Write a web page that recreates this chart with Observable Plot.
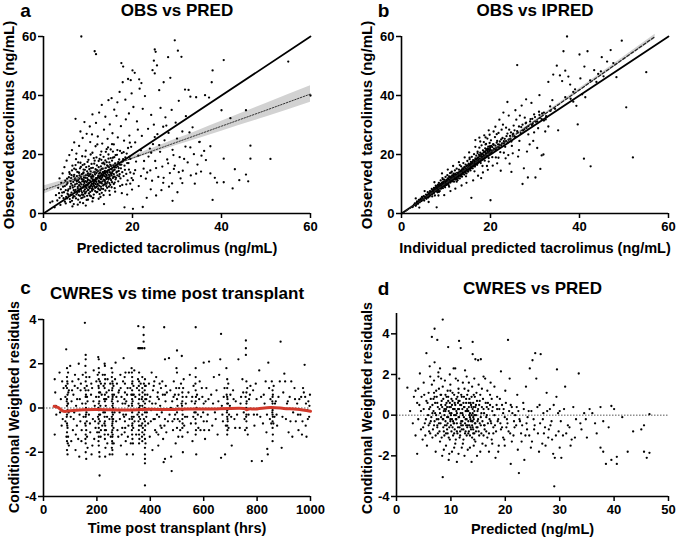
<!DOCTYPE html>
<html><head><meta charset="utf-8">
<script src="https://cdn.jsdelivr.net/npm/d3@7"></script>
<script src="https://cdn.jsdelivr.net/npm/@observablehq/plot@0.6"></script>
<style>
body{margin:0;background:#fff}
#wrap{position:relative;width:677px;height:540px;background:#fff;overflow:hidden}
.p{position:absolute}
</style></head><body><div id="wrap"></div>
<script>
// ---------- Panel a: OBS vs PRED (pred, obs) ----------
const aPoints = [
[4.2,7.1],[4.8,9.3],[5.1,5.6],[5.3,11.8],[5.6,8.2],[5.9,13.4],[6.1,6.4],[6.2,10.1],[6.4,4.3],[6.6,8.8],[6.8,12.6],[6.9,15.2],[7.0,7.3],[7.1,9.9],[7.3,5.1],[7.4,11.2],[7.6,14.1],[7.7,8.4],[7.8,17.3],[7.9,6.2],[8.0,10.6],[8.1,12.9],[8.2,3.8],[8.3,9.1],[8.4,15.8],[8.5,7.6],[8.6,11.7],[8.7,19.4],[8.8,5.4],[8.9,13.6],[9.0,8.9],[9.1,10.8],[9.2,16.7],[9.3,6.8],[9.4,12.1],[9.5,21.3],[9.6,9.6],[9.7,4.6],[9.8,14.3],[9.9,11.1],[10.0,7.9],[10.1,18.2],[10.2,10.3],[10.3,13.1],[10.4,6.1],[10.5,24.2],[10.6,9.2],[10.7,15.4],[10.8,11.9],[10.9,8.3],[11.0,20.6],[11.1,12.7],[11.2,5.3],[11.3,10.2],[11.4,16.9],[11.5,13.8],[11.6,8.7],[11.7,22.8],[11.8,11.4],[11.9,7.2],[12.0,14.7],[12.1,9.8],[12.2,26.1],[12.3,12.3],[12.4,17.8],[12.5,10.7],[12.6,6.6],[12.7,13.9],[12.8,19.9],[12.9,11.6],[13.0,8.4],[13.1,15.1],[13.2,23.7],[13.3,12.8],[13.4,9.5],[13.5,17.2],[13.6,28.4],[13.7,11.3],[13.8,14.4],[13.9,7.8],[14.0,20.9],[14.1,13.2],[14.2,10.1],[14.3,16.3],[14.4,25.3],[14.5,12.2],[14.6,18.6],[14.7,9.1],[14.8,14.9],[14.9,30.2],[15.0,11.8],[15.1,21.7],[15.2,16.1],[15.3,8.9],[15.4,13.7],[15.5,27.2],[15.6,18.9],[15.7,12.4],[15.8,23.4],[15.9,15.6],[16.0,10.5],[16.2,19.8],[16.4,33.1],[16.5,14.2],[16.7,25.8],[16.8,17.4],[17.0,12.6],[17.2,21.2],[17.4,29.6],[17.5,16.6],[17.7,9.7],[17.9,18.4],[18.1,24.7],[18.3,14.8],[18.5,31.9],[18.7,20.3],[18.9,11.2],[19.1,17.1],[19.3,26.4],[19.5,13.9],[19.7,22.6],[19.9,8.1],
[3.1,4.4],[3.5,6.9],[3.8,2.9],[4.0,10.4],[4.5,5.2],[5.0,3.4],[5.5,7.7],[6.0,9.1],[6.3,13.0],[6.7,5.9],[7.2,16.4],[7.5,10.9],[8.1,8.1],[8.6,6.4],[9.0,11.5],[9.4,9.4],[9.9,13.0],[10.3,8.8],[10.7,12.5],[11.2,9.7],[11.6,11.0],[12.0,12.0],[12.4,8.2],[12.9,10.6],[13.3,14.0],[13.8,9.9],[14.2,12.9],[14.7,15.7],[15.2,13.4],[15.7,14.6],[16.3,12.1],[16.9,15.4],[11.3,18.8],[10.2,16.0],[9.0,14.9],[8.0,13.8],[7.0,11.4],[6.5,2.4],[11.0,4.1],[12.8,5.6],[14.9,6.3],[16.1,7.4],[17.6,6.9],[13.6,3.2],[9.5,2.7],
[7.2,32.1],[8.3,27.8],[9.2,31.0],[10.4,29.5],[11.0,33.6],[11.8,30.7],[12.5,34.2],[13.1,36.8],[13.9,32.8],[14.6,38.4],[15.3,39.1],[15.9,35.2],[16.6,37.7],[17.1,41.2],[17.8,44.5],[18.4,38.6],[19.2,33.9],[19.8,40.7],[20.2,36.1],[21.0,31.2],[21.6,42.3],[22.3,35.5],[22.8,39.8],[23.5,28.7],[24.2,33.4],[24.8,30.1],[25.6,26.9],[26.3,35.8],[26.9,29.4],[27.4,32.6],[28.1,27.3],[28.8,35.1],[29.7,30.8],[30.4,38.2],[31.2,27.8],[32.0,33.0],[32.6,41.9],[33.5,29.2],[34.3,39.4],[35.1,24.3],
[8.5,60],[11.5,55],[11.8,54],[17.5,51],[17.9,49.8],[20,48.5],[20.5,47.7],[21.5,45.5],[22,44.2],[19,45.6],[19.6,45.2],[24.5,48.6],[25,47.5],[24.8,51.8],[25,55.6],[25.2,54.8],[25.5,50.2],[28,53],[29.5,58.7],[30.2,55.2],[31,53.1],[28.5,46],[38,48.5],[37.8,44.5],[40.5,52],[55,51.5],[60,40],[40,35],[42,32.3],[45.5,35],[46.5,23],[46.5,18.6],[51,18.5],[43,15],[44,11.3],[45.5,13.2],[46,10.9],[42.5,8.5],[38,4.6],[37.5,13.6],[38.5,12.1],[39,10.5],[40.5,10.6],[40.5,18.6],[36.1,21.2],[37.5,22.8],[35,24.2],[36.3,40.1],[37.2,39.3],[33,39.6],[31.8,42],[27,44.5],[26,41.8],[18.2,2.1],[20.1,1.6],[22.3,2.2],[29,4.3],[28.2,9.1],[30.1,7.2],[31.2,10.3],[25.3,6.1],[24.1,8.2],
[18.8,6.4],[19.5,10.1],[20.3,13.5],[20.8,17.6],[21.4,9.3],[21.9,21.4],[22.5,15.2],[23.0,11.8],[23.6,19.3],[24.0,14.6],[24.6,23.5],[25.1,17.8],[25.8,12.4],[26.2,20.9],[26.7,15.9],[27.2,24.8],[27.8,18.3],[28.4,13.7],[29.0,21.6],[29.5,16.2],[30.0,25.4],[30.6,19.1],[31.3,14.5],[31.9,22.7],[32.4,17.3],[33.1,12.9],[33.8,20.1],[34.6,16.6],[35.4,14.2],[36.5,18.1],[23.2,5.3],[26.5,7.9],[28.9,10.2],[27.6,29.8],[22.1,26.3],[20.6,24.1],[19.3,19.2],[21.2,28.4],[29.3,15.1],[30.8,11.9],[24.4,11.1],[26.9,10.4],[25.0,25.9],[23.9,22.0],[32.8,27.5],[34.0,10.1],
[1.5,3.7],[2.0,4.1],[2.5,2.1],[2.8,6.2],[3.3,8.7],[3.6,11.9],[4.3,13.6],[4.7,15.7],[5.2,17.9],[5.8,19.8],[6.4,21.5],[6.9,24.1],[7.4,20.3],[8.0,22.9],[8.8,25.6],[9.7,27.0],[10.9,26.8],[12.1,23.4],[13.0,21.0],[14.5,22.4]
];
const aPointsCore = [
[5.2,9.8],[5.4,6.7],[5.7,12.3],[5.9,4.9],[6.0,8.5],[6.1,11.0],[6.3,7.1],[6.4,14.6],[6.5,9.5],[6.6,5.3],[6.7,10.7],[6.8,7.9],[6.9,13.1],[7.0,5.8],[7.0,9.2],[7.1,11.9],[7.2,8.0],[7.3,14.9],[7.4,6.5],[7.5,10.1],[7.5,12.7],[7.6,7.0],[7.7,9.0],[7.8,11.3],[7.8,4.7],[7.9,13.9],[8.0,7.4],[8.0,9.6],[8.1,11.8],[8.2,6.0],[8.2,15.3],[8.3,10.4],[8.4,8.3],[8.4,12.4],[8.5,5.2],[8.5,9.9],[8.6,13.3],[8.7,7.1],[8.7,10.9],[8.8,8.8],[8.8,16.4],[8.9,6.3],[8.9,11.4],[9.0,9.7],[9.0,13.9],[9.1,7.6],[9.1,12.2],[9.2,5.7],[9.2,10.3],[9.3,8.2],[9.3,14.8],[9.4,11.0],[9.4,6.9],[9.5,9.0],[9.5,12.9],[9.6,7.4],[9.6,15.7],[9.7,10.6],[9.7,8.6],[9.8,12.0],[9.8,6.0],[9.9,9.5],[9.9,17.5],[10.0,11.5],[10.0,13.6],[10.1,8.0],[10.1,10.0],[10.2,12.7],[10.2,6.8],[10.3,9.1],[10.3,15.0],[10.4,11.2],[10.4,8.6],[10.5,13.3],[10.5,7.3],[10.6,10.8],[10.6,14.3],[10.7,9.6],[10.7,5.8],[10.8,12.3],[10.8,16.8],[10.9,10.1],[10.9,7.7],[11.0,13.0],[11.0,9.0],[11.1,11.6],[11.1,15.5],[11.2,8.2],[11.2,12.5],[11.3,10.6],[11.3,6.4],[11.4,14.0],[11.4,9.3],[11.5,11.2],[11.5,17.9],[11.6,13.2],[11.6,7.6],[11.7,10.0],[11.7,15.0],[11.8,12.0],[11.8,8.9],[11.9,13.7],[11.9,10.7],[12.0,9.2],[12.0,16.3],[12.1,11.8],[12.1,7.3],[12.2,14.2],[12.2,10.0],[12.3,12.8],[12.3,8.5],[12.4,15.7],[12.4,11.1],[12.5,13.5],[12.5,9.4],[12.6,12.0],[12.6,18.5],[12.7,10.4],[12.7,7.9],[12.8,14.7],[12.8,12.5],[12.9,9.1],[12.9,16.0],[13.0,11.9],[13.0,13.4],[13.1,10.2],[13.1,7.0],[13.2,12.3],[13.2,17.0],[13.3,10.9],[13.3,15.2],[13.4,13.0],[13.4,8.3],[13.5,11.5],[13.5,19.2],[13.6,14.1],[13.6,9.8],[13.7,12.7],[13.7,16.7],[13.8,11.0],[13.8,13.5],[13.9,10.4],[13.9,18.0],[14.0,12.4],[14.0,15.4],[14.1,9.3],[14.1,11.7],[14.2,14.3],[14.2,17.4],[14.3,12.0],[14.3,8.7],[14.4,13.8],[14.4,10.7],[14.5,16.0],[14.5,14.6],[14.6,11.5],[14.6,20.0],[14.7,13.1],[14.7,12.1],[14.8,17.3],[14.8,10.3],[14.9,14.0],[14.9,12.7],[15.0,16.5],[15.0,9.7],[15.1,13.6],[15.1,18.8],[15.2,11.3],[15.3,15.0],[15.3,12.9],[15.4,10.6],[15.4,17.9],[15.5,14.2],[15.6,12.0],[15.6,21.0],[15.7,16.3],[15.8,13.3],[15.8,10.0],[15.9,19.1],[16.0,14.8],[16.0,12.5],[16.1,17.0],[16.2,11.6],[16.3,15.6],[16.4,13.9],[16.5,19.9],[16.6,12.9],[16.7,16.0],[16.8,10.9],[16.9,14.4],[17.0,18.3],[17.1,13.3],[17.2,16.5],[17.3,11.9],[17.4,15.3],[17.6,20.5],[17.7,14.0],[17.8,17.6],[18.0,12.7],[18.2,16.2],[18.4,19.0],[18.6,13.4],[18.8,17.1],[19.0,22.2],[19.2,14.9],[19.5,18.5],[19.8,12.0],
[3.6,5.3],[3.9,8.2],[4.1,6.0],[4.4,9.1],[4.6,7.2],[4.8,4.0],[4.9,11.1],[5.0,7.9],[5.3,5.1],[5.4,10.3],[5.6,6.3],[5.8,14.0],[6.0,3.9],[6.2,12.0],[6.5,16.2],[6.8,3.2],[7.3,18.4],[7.7,3.0],[8.3,17.2],[8.9,3.5],[9.4,19.3],[10.0,4.7],[10.6,20.0],[11.1,5.2],[11.9,19.0],[12.4,5.0],[13.0,18.2],[13.5,6.2],[14.2,21.8],[14.8,7.7],[15.4,23.5],[16.0,8.6],[16.6,21.5],[17.2,9.3],[18.0,20.8],[18.6,9.9],[19.4,24.0],[20.1,11.3],[20.6,14.7],[21.3,19.6],[21.9,12.7],[22.6,17.8],[23.3,13.9],[24.2,20.6],[25.3,15.4],[26.0,23.2],[27.0,12.1],[28.0,17.0],[29.2,19.8],[30.4,14.0],[31.6,18.5],[33.0,22.4],[34.3,13.5],[35.5,19.6]
];
const aFitX  = [0, 5, 10, 15, 20, 30, 40, 50, 60];
const aFitY  = [7.9, 10.6, 13.3, 16.0, 18.8, 24.2, 29.6, 35.0, 40.5];
const aFitLo = [6.5, 9.7, 12.8, 15.6, 18.2, 23.1, 27.9, 32.7, 37.7];
const aFitHi = [9.3, 11.5, 13.8, 16.4, 19.4, 25.3, 31.3, 37.3, 43.3];

// ---------- Panel b: OBS vs IPRED (ipred, obs) ----------
const bPoints = [
[2.5,2.2],[3.0,3.4],[3.2,2.6],[3.5,4.1],[3.7,3.3],[3.9,4.6],[4.1,3.8],[4.3,5.0],[4.5,4.2],[4.6,5.6],[4.8,4.7],[5.0,5.9],[5.1,4.4],[5.3,5.3],[5.5,6.4],[5.6,5.0],[5.8,6.0],[5.9,7.2],[6.0,5.4],[6.2,6.7],[6.3,5.8],[6.4,7.6],[6.5,6.2],[6.7,7.1],[6.8,8.3],[6.9,6.5],[7.0,7.6],[7.2,6.9],[7.3,8.7],[7.4,7.4],[7.5,6.1],[7.6,8.0],[7.7,9.4],[7.8,7.5],[8.0,8.6],[8.1,7.2],[8.2,9.8],[8.3,8.1],[8.4,10.4],[8.5,8.9],[8.6,7.6],[8.7,9.5],[8.8,11.2],[8.9,8.4],[9.0,10.1],[9.1,9.0],[9.2,12.0],[9.3,8.6],[9.4,10.7],[9.5,9.4],[9.6,11.5],[9.7,10.0],[9.8,8.9],[9.9,12.4],[10.0,10.6],[10.1,9.7],[10.2,11.3],[10.3,13.0],[10.4,10.2],[10.5,11.9],[10.6,9.6],[10.7,12.6],[10.8,11.0],[10.9,13.7],[11.0,10.5],[11.1,12.1],[11.2,11.4],[11.3,14.2],[11.4,10.9],[11.5,12.8],[11.6,11.8],[11.7,13.5],[11.8,10.8],[11.9,12.4],[12.0,14.6],[12.1,11.5],[12.2,13.1],[12.3,12.0],[12.4,15.2],[12.5,12.9],[12.6,11.3],[12.7,13.8],[12.8,12.6],[12.9,14.9],[13.0,13.3],[13.1,11.9],[13.2,14.1],[13.3,13.0],[13.4,16.0],[13.5,14.5],[13.6,12.5],[13.7,15.3],[13.8,13.9],[13.9,17.1],[14.0,14.7],[14.1,13.2],[14.2,15.8],[14.3,14.3],[14.4,16.6],[14.5,15.1],[14.6,13.6],[14.7,16.2],[14.8,17.8],[14.9,15.4],[15.0,14.2],[15.1,16.9],[15.2,15.8],[15.3,18.4],[15.4,16.3],[15.5,14.6],[15.6,17.5],[15.7,16.4],[15.8,19.2],[15.9,17.0],[16.0,15.3],[16.1,18.1],[16.2,16.8],[16.3,20.1],[16.4,17.6],[16.5,15.9],[16.6,18.7],[16.7,17.2],[16.8,19.6],[16.9,18.3],[17.0,16.5],[17.1,21.0],[17.2,18.9],[17.3,17.6],[17.4,19.9],[17.5,22.3],[17.6,18.4],[17.7,20.6],[17.8,17.1],[17.9,19.4],[18.0,23.1],[18.1,20.2],[18.2,18.6],[18.3,21.4],[18.4,19.8],[18.5,24.2],[18.6,21.0],[18.7,17.9],[18.8,22.1],[18.9,20.5],[19.0,23.6],[19.1,19.3],[19.2,21.8],[19.3,25.4],[19.4,20.9],[19.5,22.7],[19.6,18.8],[19.7,21.5],[19.8,23.9],[19.9,22.2],[20.0,20.4],[20.1,24.8],[20.2,22.9],[20.3,21.3],[20.4,19.1],[20.6,23.5],[20.8,22.0],[21.0,25.9],[21.2,21.6],[21.4,24.0],[21.6,22.4],[21.8,27.3],[22.0,23.3],[22.2,20.8],[22.4,25.1],[22.6,23.8],[22.8,30.1],[23.0,24.5],[23.3,22.6],[23.6,26.2],[23.9,24.1],[24.2,28.4],[24.5,25.3],[24.8,22.9],[25.1,27.1],[25.4,26.0],[25.8,31.8],[26.1,27.4],[26.5,24.6],[26.9,29.3],[27.3,28.1],[27.7,32.5],[28.1,29.0],[28.5,26.8],[28.9,31.2],[29.3,30.0],[29.8,33.6],[30.2,31.1],[30.7,28.9],[31.1,32.4],[31.6,33.9],[32.0,31.5],[32.5,33.0],[33.0,29.5],[33.5,34.8],
[3.2,5.1],[4.0,2.0],[5.2,7.6],[6.1,3.9],[7.4,10.6],[7.9,2.1],[8.3,6.1],[9.1,13.6],[9.6,6.2],[10.4,14.9],[11.0,7.6],[11.6,16.1],[12.1,8.4],[12.9,17.4],[13.5,9.5],[14.2,19.0],[14.6,10.4],[15.2,20.7],[15.7,5.3],[16.1,11.2],[16.6,22.6],[17.2,12.8],[17.7,24.4],[18.3,13.9],[18.9,25.8],[19.4,14.8],[19.8,26.7],[20.0,4.5],[20.5,16.2],[21.1,29.4],[21.5,17.0],[22.0,31.8],[22.3,14.5],[22.9,34.2],[23.4,18.7],[23.8,37.8],[24.3,16.9],[24.1,33.2],[25.0,20.4],[25.6,35.0],[26.0,50.3],[26.4,21.5],[27.0,36.6],[27.2,10.0],[27.5,15.3],[28.0,38.7],[28.4,12.2],[28.8,23.4],[29.2,37.5],[29.8,27.5],[30.1,12.2],[30.5,22.2],[31.0,40.1],[31.2,15.1],[31.5,19.7],[31.9,20.0],[32.3,27.8],[33.0,44.6],[33.4,36.3],[34.1,47.1],[34.9,50.1],[35.2,28.2],[35.6,46.8],[36.1,44.9],[36.4,55.0],[36.8,39.4],[37.2,60.0],[37.5,46.4],[38.0,38.9],[38.6,41.2],[39.3,36.5],[39.6,30.2],[40.0,53.9],[40.2,45.8],[40.6,40.4],[41.1,49.8],[41.3,39.4],[41.8,55.0],[42.4,45.1],[42.5,16.0],[41.0,18.6],[43.3,48.6],[44.2,47.3],[45.0,53.0],[45.4,46.5],[46.2,51.5],[47.0,55.4],[47.6,51.0],[48.3,46.2],[49.5,58.6],[50.5,36.0],[52.0,19.0],[55.0,47.9],[44.8,48.2],[43.8,44.6],[39.0,42.1],[37.9,43.7],[36.8,48.4],[38.6,37.9],[34.5,35.5],[33.9,38.4],[32.4,31.9],[30.9,34.5],[29.4,32.1],[27.9,30.6],[26.6,33.2],[25.2,29.8],[24.6,27.5],[23.5,29.1],[22.5,28.4],[21.4,26.9],[20.7,27.8],[19.6,28.2],[18.6,26.5],[17.5,25.7],[16.6,24.9],[17.9,12.0],[19.2,16.1],[21.8,18.9],[24.0,19.8],[26.2,19.3],[28.2,21.0],[29.6,24.6],[24.7,14.1]
];
const bPointsCore = [
[4.4,4.5],[4.7,5.2],[4.9,4.9],[5.2,5.6],[5.4,5.5],[5.7,6.2],[5.8,5.5],[6.0,6.5],[6.1,6.0],[6.3,6.9],[6.4,6.4],[6.6,7.4],[6.6,6.6],[6.8,7.0],[7.0,7.9],[7.1,7.3],[7.2,8.1],[7.3,7.0],[7.4,8.5],[7.5,7.8],[7.6,8.7],[7.7,7.7],[7.8,8.9],[7.9,8.2],[8.0,9.3],[8.1,8.5],[8.2,8.0],[8.3,9.4],[8.4,8.8],[8.5,9.9],[8.6,9.2],[8.7,8.5],[8.8,10.0],[8.9,9.4],[9.0,9.0],[9.1,10.5],[9.2,9.6],[9.3,10.1],[9.4,9.2],[9.5,10.8],[9.6,10.2],[9.7,9.4],[9.8,11.0],[9.9,10.3],[10.0,9.7],[10.1,11.4],[10.2,10.6],[10.3,10.0],[10.4,11.8],[10.5,10.9],[10.6,10.3],[10.7,11.5],[10.8,12.2],[10.9,11.3],[11.0,10.8],[11.1,12.5],[11.2,11.7],[11.3,11.1],[11.4,12.9],[11.5,12.0],[11.6,11.4],[11.7,12.7],[11.8,13.2],[11.9,11.7],[12.0,12.6],[12.1,13.5],[12.2,12.3],[12.3,11.7],[12.4,13.0],[12.5,13.8],[12.6,12.7],[12.7,12.0],[12.8,13.5],[12.9,13.0],[13.0,14.2],[13.1,13.3],[13.2,12.6],[13.3,14.5],[13.4,13.7],[13.5,13.1],[13.6,14.8],[13.7,14.0],[13.8,13.4],[13.9,15.1],[14.0,14.2],[14.1,15.6],[14.2,14.6],[14.3,13.8],[14.4,15.3],[14.5,14.9],[14.6,16.0],[14.7,15.0],[14.8,14.3],[14.9,16.3],[15.0,15.5],[15.1,14.8],[15.2,16.6],[15.3,15.9],[15.4,15.1],[15.5,16.8],[15.6,16.1],[15.7,15.4],[15.8,17.2],[15.9,16.5],[16.0,17.6],[16.1,16.0],[16.2,17.0],[16.3,16.4],[16.4,18.0],[16.5,17.1],[16.6,16.5],[16.7,18.3],[16.8,17.5],[16.9,16.9],[17.0,18.7],[17.1,17.8],[17.2,17.2],[17.3,19.0],[17.4,18.2],[17.5,17.5],[17.6,19.5],[17.7,18.6],[17.8,18.0],[17.9,20.0],[18.0,18.9],[18.1,18.3],[18.2,20.3],[18.3,19.3],[18.4,18.6],[18.5,20.7],[18.6,19.6],[18.7,19.1],[18.8,21.0],[18.9,19.8],[19.0,21.5],[19.1,20.4],[19.2,19.6],[19.3,21.2],[19.4,22.1],[19.5,20.5],[19.6,21.8],[19.7,20.2],[19.8,21.1],[19.9,22.8],[20.0,21.6],[20.2,20.7],[20.4,22.5],[20.5,21.3],[20.7,23.3],[20.9,21.7],[21.1,23.0],[21.3,22.2],[21.5,24.6],[21.7,23.4],[21.9,22.5],[22.1,24.4],[22.4,23.0],[22.7,25.6],[23.0,23.7],[23.2,25.3],[23.5,24.5],[23.8,27.1],[24.1,25.0],[24.4,26.3],[24.7,24.4],[25.0,26.7],[25.4,28.2],[25.7,26.0],[26.0,27.9],[26.4,29.5],[26.8,27.2],[27.2,30.1],[27.6,28.5],[28.0,30.8],[28.5,29.6],[29.0,32.0],[29.5,30.4],[30.0,32.7],[30.5,31.2],[31.0,33.4],[31.5,32.0],[32.0,34.2],[32.6,32.7],[3.4,3.7],[3.8,3.9],[4.2,4.6],[2.8,2.9],[3.3,3.0],[6.9,5.8],[8.4,7.3],[9.3,11.6],[11.2,13.9],[13.1,16.4],[15.3,18.9],[17.1,20.5],[18.9,23.4],[10.7,9.1],[12.4,10.8],[14.5,12.6],[16.4,14.3],[18.2,16.1],[19.6,17.6],[21.2,19.0],[23.0,20.6]
];
const bFitX  = [0, 20, 40, 57];
const bFitY  = [-0.2, 20.8, 41.9, 60];
const bFitLo = [-0.6, 20.6, 41.4, 59.2];
const bFitHi = [0.2, 21.0, 42.4, 60.8];

// ---------- Panel c: CWRES vs time post transplant (hrs, cwres) ----------
const cPoints = [
[42,1.3],[42,-1.2],[44,0.7],[46,0.1],[48,-0.3],[60,1.6],[62,-0.2],[65,0.4],[68,-0.8],[70,1.2],[72,-0.5],[75,0.9],
[85,2.65],[88,1.8],[88,1.4],[88,0.9],[88,0.4],[88,0.1],[88,-0.3],[88,-0.7],[88,-1.1],[88,-1.5],[88,-1.9],[90,-2.1],[90,1.1],[90,0.6],[90,-0.1],[90,-0.9],[92,1.6],[92,-1.3],[92,0.2],[95,-1.7],[95,0.8],
[100,1.9],[102,-0.4],[105,0.3],[108,1.2],[110,-1.0],[112,0.6],[115,-0.2],[118,1.5],[120,-1.9],[122,0.1],[125,-0.8],[128,0.9],[130,-1.4],[132,2.0],[134,-2.2],[136,0.4],[138,-0.6],[140,1.1],[142,-1.5],[145,0.2],
[155,3.85],[158,2.4],[158,2.2],[158,1.6],[158,1.2],[158,0.8],[158,0.5],[158,0.2],[158,-0.1],[158,-0.4],[158,-0.8],[158,-1.2],[158,-1.6],[158,-2.0],[160,-2.3],[162,1.0],[162,-0.6],[165,0.3],[165,-1.8],
[170,-0.3],[172,1.4],[175,-1.1],[178,0.6],[180,-2.1],[182,0.9],[185,-0.5],[188,1.7],[190,-1.4],[192,0.1],[195,-0.9],[198,1.2],
[205,2.3],[207,2.2],[207,1.8],[207,1.3],[207,0.9],[207,0.5],[207,0.2],[207,-0.1],[207,-0.5],[207,-0.9],[207,-1.3],[207,-1.7],[210,-3.05],[210,-2.2],[212,0.7],[212,-0.3],[215,1.1],[215,-1.0],
[225,1.0],[228,-0.7],[230,1.9],[230,1.5],[230,1.1],[230,0.6],[230,0.3],[230,-0.2],[230,-0.6],[230,-1.0],[230,-1.4],[232,-1.8],[235,0.4],[238,-0.4],[240,1.3],[242,-1.2],[245,0.8],[248,-2.1],
[255,1.8],[258,1.6],[258,1.2],[258,0.9],[258,0.6],[258,0.4],[258,0.1],[258,-0.2],[258,-0.5],[258,-0.7],[258,-1.0],[258,-1.3],[258,-1.6],[258,-1.9],[258,-2.1],[260,0.2],[260,-0.3],[262,1.0],[262,-0.9],
[270,2.05],[272,-0.6],[275,1.1],[278,0.3],[280,-1.3],[283,0.8],[285,-0.2],[288,1.5],[290,-1.7],[292,0.5],[295,-0.9],[298,1.2],[300,2.25],[302,-0.4],[305,1.1],[305,0.7],[305,-0.1],[305,-0.6],[308,-1.5],[310,0.3],[312,-2.1],[315,0.9],[318,-0.8],[320,1.6],
[330,1.8],[332,1.4],[332,1.1],[332,0.8],[332,0.4],[332,0.1],[332,-0.2],[332,-0.5],[332,-0.8],[332,-1.2],[335,-1.6],[335,-2.1],[338,0.6],[338,-0.4],[340,1.7],
[355,3.7],[355,2.7],[360,2.7],[365,2.7],[370,2.7],[375,3.65],[375,3.3],[375,3.0],[378,2.7],[358,1.6],[358,1.2],[358,0.8],[358,0.4],[358,0.0],[358,-0.4],[358,-0.8],[358,-1.2],[358,-1.6],[370,1.4],[370,0.9],[370,0.5],[370,0.1],[370,-0.3],[370,-0.7],[370,-1.1],[370,-1.5],[380,1.3],[380,1.0],[380,0.6],[380,0.2],[380,-0.2],[380,-0.6],[380,-1.0],[380,-1.4],[380,-1.8],[380,-2.1],[380,-2.3],[380,-2.5],[380,-3.5],[385,0.4],[385,-0.4],
[392,-0.7],[395,1.1],[398,-1.3],[400,0.5],[403,-0.1],[405,1.6],[408,-1.9],[410,0.8],[412,-0.5],[415,1.2],[418,-1.0],[420,0.2],[422,1.4],[425,-0.3],[428,0.7],[430,-1.2],[430,-1.7],[432,0.4],[435,1.1],[438,-0.8],[440,0.9],[443,-0.2],[445,1.2],[448,-1.4],[450,-2.45],[452,3.65],[455,2.2],[455,0.6],[455,-0.5],[455,-2.3],[458,1.0],[460,-1.1],
[470,2.25],[472,-0.3],[475,0.8],[478,-2.2],[480,-2.85],[482,0.3],[485,-1.0],[488,1.2],[490,-0.5],[492,0.6],[495,-1.6],[498,1.8],[500,2.6],[500,1.6],[500,0.4],[500,-0.2],[500,-0.9],[505,-1.3],[508,0.9],[510,-0.6],[515,1.1],[518,2.35],[520,0.7],[520,0.3],[520,-0.1],[520,-0.5],[520,-0.9],[520,-1.3],[522,-2.0],[525,1.3],[530,-0.4],[535,0.5],[540,-1.1],
[548,1.5],[552,-0.7],[555,0.3],[558,-1.5],[562,1.0],[565,-0.2],[570,3.65],[570,1.8],[570,1.4],[570,0.8],[570,0.3],[570,-0.2],[570,-0.7],[570,-1.2],[572,-2.1],[575,0.6],[580,-0.9],[585,1.2],[590,-0.4],[595,0.5],[600,2.05],[600,0.2],[600,-0.6],[605,-1.4],[610,0.9],[615,-0.3],[620,2.1],[620,-1.0],
[628,0.6],[632,-0.8],[638,1.4],[642,-0.2],[648,0.8],[652,-1.2],[658,1.5],[662,2.2],[665,3.35],[665,-2.25],[668,0.1],[672,-0.6],[678,0.9],[680,-2.1],[685,1.8],[688,1.3],[688,0.9],[688,0.5],[688,0.2],[688,-0.1],[688,-0.4],[688,-0.8],[688,-1.2],[690,-0.6],[692,1.1],[695,-0.3],[700,0.6],[705,-1.7],[710,0.8],[715,-0.5],[720,0.3],
[730,2.2],[735,-0.9],[740,0.5],[745,1.3],[750,-0.2],[755,-1.0],[758,3.05],[758,2.7],[758,2.4],[760,1.2],[760,0.7],[760,0.2],[760,-0.3],[760,-0.6],[765,-1.2],[770,0.4],[775,1.0],[780,-2.4],[785,0.8],[790,-0.8],[795,1.1],[800,-0.3],
[808,1.7],[815,0.5],[818,-2.4],[822,-0.7],[828,0.2],[832,1.2],[835,-1.1],[838,-1.85],[840,-2.1],[842,2.05],[845,0.9],[848,-0.5],[855,1.2],[858,0.8],[858,0.5],[858,0.2],[858,-0.1],[858,-0.3],[858,-0.6],[858,-0.9],[858,-1.5],[862,1.0],[865,-0.4],[870,0.3],[875,-0.8],
[885,1.2],[888,3.0],[892,-1.8],[898,0.7],[902,1.55],[905,1.2],[908,-0.5],[912,0.2],[918,-1.1],[922,0.5],[928,1.2],[932,-1.3],[935,-0.2],[940,0.9],[945,-0.6],[950,0.2],[955,-1.0],[958,0.4],[962,-0.3],[968,-1.2],[972,0.9],[975,0.7],[978,1.95],[980,0.5],[982,-0.8],[985,-1.3],[988,-0.1],[992,0.3],[995,-0.4],[998,0.6]
];
const cPointsCore = [
[82,0.5],[82,-0.6],[84,1.0],[86,-1.3],[87,0.3],[87,-0.4],[89,1.2],[89,-0.8],[91,0.2],[91,-1.6],[93,0.7],[94,-0.2],
[104,-1.5],[107,0.8],[113,-0.5],[117,1.0],[121,-1.2],[126,0.4],[131,1.3],[135,-0.3],[139,0.8],[143,-1.0],[147,1.5],[150,-0.4],
[154,0.9],[156,-0.7],[157,1.9],[157,-1.4],[159,0.0],[159,-0.3],[159,0.6],[160,1.4],[160,-1.0],[161,-0.2],[163,0.5],[163,-1.3],
[168,0.8],[174,-0.7],[179,1.1],[183,-1.7],[187,0.3],[193,-0.6],[197,0.5],[201,-1.1],[203,1.5],[204,-0.4],
[206,1.0],[206,0.0],[206,-0.7],[206,-1.5],[208,1.6],[208,0.7],[208,-0.3],[208,-1.1],[209,0.3],[209,-2.0],[211,1.2],[211,-0.6],[213,0.1],[214,-1.3],
[218,0.6],[220,-0.8],[222,1.5],[224,-0.2],[227,0.4],[229,2.0],[229,0.9],[229,-0.4],[229,-1.2],[231,1.3],[231,0.4],[231,-0.8],[231,-2.2],[233,0.1],[234,-1.0],[236,0.7],[239,-1.6],[243,0.5],[247,-0.5],[250,1.1],[252,-1.3],
[256,1.4],[256,0.3],[256,-0.4],[256,-1.1],[256,-1.8],[257,0.8],[257,-0.1],[257,-0.8],[257,-1.5],[259,1.1],[259,0.5],[259,-0.6],[259,-1.2],[261,0.0],[261,-0.5],[263,-1.6],[264,0.6],[266,-0.2],[268,1.3],
[273,0.5],[277,-1.0],[281,0.7],[286,-0.5],[289,0.9],[293,-1.2],[296,0.2],[299,-0.3],[303,0.4],[304,1.4],[304,-1.1],[306,0.2],[306,-0.9],[307,1.6],[309,-0.3],[313,0.6],[316,-1.3],[319,0.1],[322,-0.5],[325,0.9],[327,-1.6],
[329,0.6],[331,1.6],[331,0.2],[331,-0.4],[331,-1.0],[333,1.2],[333,0.6],[333,-0.1],[333,-0.7],[333,-1.4],[334,0.3],[336,-0.9],[337,1.0],[341,-0.6],[344,0.5],[347,-1.2],[350,0.9],
[352,-0.3],[354,1.3],[356,0.2],[356,-0.6],[357,1.0],[357,-1.0],[357,-0.2],[359,0.6],[359,-1.4],[361,0.1],[362,-0.5],[364,1.1],[366,-0.8],[368,0.4],[369,-1.3],[371,0.7],[371,-0.1],[372,-0.9],[374,0.3],[376,1.1],[376,-0.5],[377,-1.2],[379,0.8],[379,0.0],[381,0.4],[381,-0.8],[382,-1.6],[383,1.0],[387,-0.2],[389,0.6],
[397,0.3],[402,-0.6],[407,0.2],[413,1.0],[417,-0.5],[423,-1.1],[427,0.5],[433,-0.4],[437,0.1],[442,-0.9],[447,0.6],[453,-0.8],[457,0.3],[462,0.7],[466,-0.6],
[477,0.0],[483,-0.6],[487,0.5],[493,-0.3],[497,0.9],[502,0.1],[503,-0.5],[506,0.6],[512,-1.0],[517,0.2],[519,0.1],[521,0.5],[521,-0.3],[521,-0.7],[523,0.9],[527,-0.8],[533,0.2],[538,-0.4],[543,0.7],
[557,0.5],[561,-0.4],[567,0.2],[569,1.1],[569,-0.5],[571,0.5],[571,-1.0],[573,0.0],[578,-0.3],[583,0.4],[588,-1.0],[593,0.9],[598,-0.2],[602,-1.0],[607,0.3],[612,-0.6],[618,0.4],
[635,0.2],[645,-0.5],[655,0.3],[670,-0.3],[675,0.5],[683,-0.8],[686,0.6],[687,-0.2],[689,0.4],[689,-0.5],[689,-1.0],[691,0.2],[693,-0.9],[698,0.1],[703,-0.4],[712,0.4],[718,-0.9],
[725,-0.3],[738,0.2],[748,0.7],[753,-0.5],[757,0.5],[759,0.0],[759,-0.4],[761,0.3],[761,-0.9],[763,0.9],[768,-0.3],[773,0.6],[788,-0.3],[798,0.4],
[812,-0.4],[825,0.6],[837,-0.3],[850,0.4],[853,-0.7],[857,0.3],[857,-0.2],[859,0.6],[859,-0.4],[859,-1.2],[860,0.0],[861,-0.7],[867,0.2],[873,-0.3],[880,0.5],
[895,-0.4],[915,0.3],[925,-0.6],[942,0.4],[953,-0.3],[965,0.5],[970,-0.6],[983,0.2],[990,-0.5],[996,0.1]
];
const cTrendX = [40, 55, 70, 85, 100, 150, 200, 250, 300, 350, 400, 450, 500, 550, 600, 650, 700, 750, 760, 770, 800, 850, 900, 950, 1000];
const cTrendY = [0.08, 0.02, -0.12, -0.15, -0.12, -0.08, -0.07, -0.08, -0.09, -0.08, -0.06, -0.07, -0.06, -0.05, -0.05, -0.04, -0.02, -0.02, -0.08, -0.04, -0.04, 0.02, -0.02, -0.06, -0.15];

// ---------- Panel d: CWRES vs PRED (pred, cwres) ----------
const dPoints = [
[0.5,1.8],[2.0,1.35],[2.5,0.2],[3.0,-0.4],[3.2,0.9],[3.5,1.2],[3.5,-1.0],[3.8,-1.9],[3.8,0.6],[4.0,1.3],[4.0,-0.2],[4.2,0.5],[4.3,2.05],[4.5,-0.7],[4.6,0.9],[4.8,-1.2],[5.0,0.3],[5.0,1.6],[5.2,-0.4],[5.5,3.05],[5.5,0.7],[5.6,-1.5],[5.8,0.0],[5.9,1.1],[6.0,-0.8],[6.1,2.4],[6.2,0.4],[6.3,-0.3],[6.5,3.85],[6.5,1.5],[6.6,-1.1],[6.8,0.8],[6.9,-0.5],[7.0,4.25],[7.0,2.6],[7.1,0.1],[7.2,-1.8],[7.3,1.2],[7.4,-0.2],[7.5,3.7],[7.5,0.6],[7.6,-0.9],[7.7,1.9],[7.8,-0.4],[7.9,0.3],[8.0,2.3],[8.0,-1.3],[8.1,1.0],[8.2,-0.1],[8.3,0.7],[8.4,-2.0],[8.5,4.7],[8.5,-3.05],[8.5,1.4],[8.6,-0.6],[8.7,0.2],[8.8,-1.0],[8.9,1.7],[9.0,0.5],[9.0,-0.3],[9.1,-1.5],[9.2,0.9],[9.3,-0.7],[9.4,1.2],[9.5,3.35],[9.5,-0.1],[9.6,-2.2],[9.7,0.4],[9.8,-1.2],[9.9,1.5],[10.0,0.0],[10.0,-0.5],[10.1,0.8],[10.2,-1.8],[10.3,1.1],[10.4,-0.3],[10.5,0.3],[10.5,2.3],[10.6,-0.9],[10.7,0.6],[10.8,-1.4],[10.9,1.8],[11.0,-0.2],[11.0,0.2],[11.1,-2.3],[11.2,0.9],[11.3,-0.6],[11.4,1.3],[11.5,3.65],[11.5,-0.1],[11.6,-1.1],[11.7,0.5],[11.8,3.3],[11.8,-0.4],[11.9,1.0],[12.0,-1.6],[12.1,0.1],[12.2,1.6],[12.3,-0.7],[12.4,0.4],[12.5,-2.0],[12.6,2.2],[12.7,-0.2],[12.8,0.8],[12.9,-1.0],[13.0,0.3],[13.1,-0.5],[13.2,1.2],[13.3,-0.8],[13.4,0.0],[13.5,-1.6],[13.6,0.6],[13.7,-0.3],[13.8,-2.3],[13.9,1.4],[14.0,3.6],[14.0,3.0],[14.0,0.1],[14.0,-0.6],[14.1,-0.1],[14.2,0.4],[14.3,-1.2],[14.4,0.9],[14.5,2.75],[14.5,-0.4],[14.6,-0.8],[14.7,1.1],[14.8,-2.0],[14.9,0.2],[15.0,2.7],[15.0,-0.2],[15.2,-1.0],[15.3,0.7],[15.5,2.75],[15.5,-0.5],[15.7,1.3],[15.8,-1.4],[16.0,0.3],[16.2,-0.7],[16.3,1.8],[16.5,-0.1],[16.7,-1.1],[16.8,0.6],[17.0,-1.8],[17.2,1.0],[17.4,-0.4],[17.6,0.2],[17.8,-0.9],[18.0,1.4],[18.2,-2.1],[18.4,0.5],[18.6,-0.3],[18.8,-1.5],[19.0,0.8],[19.2,2.15],[19.4,-0.6],[19.6,0.1],[19.8,-1.2],[20.0,1.2],[20.3,-0.2],[20.5,3.7],[20.6,-0.8],[20.8,1.8],[21.0,-2.4],[21.2,0.4],[21.5,-1.0],[21.8,0.0],[22.0,-0.5],[22.2,1.0],[22.5,-2.85],[22.7,-0.3],[23.0,-1.3],[23.3,0.6],[23.5,-2.2],[23.8,1.4],[24.0,-0.7],[24.3,0.2],[24.5,2.3],[24.7,-1.6],[25.0,2.7],[25.2,-0.2],[25.5,3.05],[25.7,1.8],[26.0,-0.9],[26.3,0.5],[26.5,3.0],[26.8,-1.4],[27.0,0.1],[27.3,-0.6],[27.6,1.1],[27.9,-1.1],[28.2,0.3],[28.5,-0.3],[28.8,-1.9],[29.0,-3.5],[29.1,-2.1],[29.4,0.9],[29.5,2.25],[29.8,-0.8],[30.0,0.2],[30.3,-2.1],[30.6,-1.0],[31.0,1.4],[31.5,-0.5],[32.0,-1.5],[32.2,-1.2],[32.5,0.4],[33.0,-0.2],[33.5,2.05],[34.0,-0.7],[34.5,0.1],[35.0,-1.1],[35.5,0.3],[36.0,0.1],[36.5,-0.4],[37.5,0.4],[37.5,-1.6],[38.0,-0.3],[38.0,-1.8],[38.5,-2.4],[39.0,-0.6],[39.5,0.45],[39.5,-2.2],[40.0,0.3],[40.5,-2.4],[40.5,-2.05],[41.5,-0.1],[42.5,-1.8],[43.5,-0.8],[45.0,-0.7],[45.5,-0.5],[45.5,-1.8],[46.0,-2.1],[46.5,-1.85],[46.5,0.05],
[8.2,0.5],[8.6,-0.2],[9.1,0.3],[9.4,-0.9],[9.8,0.1],[10.2,0.5],[10.6,-0.4],[10.9,0.0],[11.3,0.3],[11.7,-0.8],[12.1,-0.3],[12.4,0.9],[12.8,-0.5],[13.2,0.2],[13.5,-0.1],[13.8,0.4],[14.1,-0.9],[14.3,0.0],[14.6,0.5],[14.9,-0.6],[13.9,-0.3],[13.6,-0.6],[13.3,0.6],[12.9,0.2],[12.6,-0.9],[12.2,0.0],[11.9,-0.5],[11.4,0.7],[11.1,-0.8],[10.7,0.3],[10.3,-0.6],[9.9,-0.2],[9.5,0.7],[9.2,-0.5],[8.8,0.3],[7.5,-0.6],[7.0,0.9],[6.6,0.1],[6.2,-0.9],[15.6,0.1],[16.1,-0.5],[16.6,0.4],[17.1,-0.2],[17.5,0.8],[18.1,-0.5],[18.5,0.3],[19.1,-0.4],[19.7,0.3],[20.2,-0.6],[21.0,0.5],[21.6,-0.3],[22.4,0.2],[23.1,-0.5],[24.1,-0.1],[25.4,-0.5],[26.9,-0.2],[28.0,-0.7],[29.7,0.1],[31.2,-0.9],[33.8,-0.4]
];
const dPointsCore = [
[6.0,0.3],[6.1,-0.4],[6.3,0.8],[6.4,-0.1],[6.6,0.5],[6.7,-0.7],[6.8,0.2],[6.9,1.1],[7.0,-0.3],[7.1,0.6],[7.2,-1.0],[7.3,0.0],[7.4,0.9],[7.5,-0.5],[7.6,0.4],[7.7,-0.2],[7.8,1.3],[7.9,-0.8],[8.0,0.1],[8.1,-0.4],[8.2,1.0],[8.3,-1.1],[8.4,0.4],[8.5,-0.2],[8.6,0.8],[8.7,-0.8],[8.8,0.0],[8.9,-0.5],[9.0,1.0],[9.0,0.2],[9.1,-0.9],[9.2,0.6],[9.3,-0.1],[9.3,0.4],[9.4,-0.4],[9.5,0.9],[9.6,-1.1],[9.6,0.2],[9.7,-0.6],[9.8,0.6],[9.9,-0.3],[9.9,1.2],[10.0,0.4],[10.1,-0.8],[10.1,0.1],[10.2,-0.2],[10.3,0.7],[10.4,-1.0],[10.4,0.3],[10.5,-0.4],[10.6,1.0],[10.6,0.0],[10.7,-0.7],[10.8,0.5],[10.9,-0.2],[10.9,-1.2],[11.0,0.8],[11.1,0.1],[11.1,-0.4],[11.2,-0.9],[11.3,0.6],[11.4,-0.1],[11.4,1.1],[11.5,0.3],[11.6,-0.6],[11.6,0.7],[11.7,-1.0],[11.8,0.1],[11.9,-0.3],[11.9,0.5],[12.0,0.9],[12.0,-0.7],[12.1,0.3],[12.2,-0.5],[12.3,0.6],[12.3,-1.2],[12.4,-0.1],[12.5,0.4],[12.5,1.3],[12.6,-0.4],[12.7,0.2],[12.7,-0.8],[12.8,0.6],[12.9,-0.2],[13.0,-0.6],[13.0,1.0],[13.1,0.2],[13.2,-0.9],[13.2,-0.3],[13.3,0.4],[13.4,-0.5],[13.4,0.8],[13.5,0.1],[13.5,-1.0],[13.6,-0.2],[13.7,0.5],[13.7,-0.7],[13.8,0.0],[13.8,0.9],[13.9,-0.5],[13.9,-1.1],[14.0,0.3],[14.0,-0.3],[14.1,0.6],[14.1,-0.7],[14.2,-0.2],[14.2,1.0],[14.3,0.2],[14.3,-0.9],[14.4,-0.4],[14.5,0.4],[14.5,-1.3],[14.6,0.0],[14.7,-0.6],[14.8,0.7],[14.9,-0.3],[15.0,0.3],[15.1,-0.8],[15.2,0.5],[15.3,-0.4],[15.4,1.0],[15.5,-0.1],[15.6,-0.9],[15.7,0.4],[15.8,-0.3],[15.9,0.8],[16.0,-1.0],[16.1,0.1],[16.2,-0.5],[16.4,0.6],[16.5,-0.8],[16.6,0.0],[16.7,1.2],[16.8,-0.4],[16.9,0.3],[17.0,-0.9],[17.2,0.5],[17.3,-0.3],[17.5,-1.2],[17.7,0.4],[17.8,-0.6],[18.0,0.0],[18.3,-0.8],[18.5,0.9],[18.7,-0.2],[18.9,0.3],[19.2,-0.7],[19.4,0.5],[19.6,-1.1],[19.9,-0.1],[20.1,0.6],[20.4,-0.4],[20.7,0.2],[20.9,-0.9],[21.3,0.1],[21.7,-0.6],[22.1,0.4],[22.6,-0.2],[22.9,-0.9],[23.4,0.3],[23.9,-0.4],[24.4,-1.0],[24.8,0.2],[25.3,-0.7],[25.9,0.4],[26.4,-0.4],[27.1,-0.9],[27.7,0.2],[28.3,-0.5],[28.9,0.5],[29.3,-1.0],[30.2,-0.3],[30.8,0.3],[31.8,-0.6],[32.8,-1.1],[34.8,-0.2],[36.8,-0.9],
[4.5,0.2],[4.9,-0.6],[5.1,1.0],[5.4,-0.2],[5.7,0.6],[5.3,-1.0],[5.9,-0.5],[6.2,1.9],[6.9,1.7],[7.7,2.1],[8.2,1.8],[9.8,2.0],[10.8,2.3],[11.3,1.7],[12.9,1.9],[13.3,1.6],[14.3,1.8],[15.1,1.5],[16.0,1.9],[17.3,1.6],[8.7,-1.7],[9.7,-1.9],[10.6,-1.6],[11.4,-1.9],[12.2,-1.4],[13.1,-1.7],[14.2,-1.5],[15.4,-1.8],[16.4,-1.5],[17.6,-1.4],[18.7,-1.8],[19.9,-1.5],[21.2,-1.3],[22.3,-1.7],[23.7,-1.0],[24.9,-1.3],[26.2,-1.8],[27.4,-1.5],[28.6,-1.2],[30.0,-1.6]
];

// ---------- Axis ticks and texts ----------
const ticksA = [0, 20, 40, 60];
const ticksCx = [0, 200, 400, 600, 800, 1000];
const ticksCy = [-4, -2, 0, 2, 4];
const ticksDx = [0, 10, 20, 30, 40, 50];
const ticksDy = [-4, -2, 0, 2, 4];
const identityLine = [0, 60];

const FONT = "'Liberation Sans', Arial, Helvetica, sans-serif";

function panel(o) {
  const marks = [];
  if (o.under) marks.push(...o.under);
  marks.push(Plot.dot(o.points, {x: d => d[0], y: d => d[1], r: 1.15, fill: "#000", stroke: null}));
  if (o.over) marks.push(...o.over);
  marks.push(
    Plot.ruleX([o.xd[0]], {stroke: "#000", strokeWidth: 1.6}),
    Plot.ruleY([o.yd[0]], {stroke: "#000", strokeWidth: 1.6}),
    Plot.axisX({ticks: o.xt, tickSize: 5, tickPadding: 3, strokeWidth: 1.5, fontSize: 13, fontWeight: "bold", label: null, tickFormat: d => String(d)}),
    Plot.axisY({ticks: o.yt, tickSize: 5, tickPadding: 2, strokeWidth: 1.5, fontSize: 13, fontWeight: "bold", label: null, tickFormat: d => String(d)}),
    Plot.text([o.title], {frameAnchor: "top", dy: o.tdy, fontSize: 17, fontWeight: "bold", lineAnchor: "middle", text: d => d, fill: "#000"}),
    Plot.text([o.letter], {frameAnchor: "top-left", dx: o.ldx, dy: o.ldy, fontSize: 19, fontWeight: "bold", lineAnchor: "middle", textAnchor: "middle", text: d => d, fill: "#000"}),
    Plot.text([o.xl], {frameAnchor: "bottom", dy: o.xldy, fontSize: 14.5, fontWeight: "bold", lineAnchor: "middle", text: d => d, fill: "#000"}),
    Plot.text([o.yl], {frameAnchor: "left", dx: o.yldx, dy: o.yldy, rotate: -90, fontSize: o.ylfs, fontWeight: "bold", lineAnchor: "middle", textAnchor: "middle", text: d => d, fill: "#000"})
  );
  const chart = Plot.plot({
    width: o.w, height: o.h,
    marginLeft: o.ml, marginRight: o.mr, marginTop: o.mt, marginBottom: o.mb,
    x: {domain: o.xd, label: null},
    y: {domain: o.yd, label: null},
    style: {fontFamily: FONT, color: "#000", background: "#fff", overflow: "visible"},
    marks
  });
  chart.classList.add("p");
  chart.style.left = o.left + "px";
  chart.style.top = o.top + "px";
  document.getElementById("wrap").appendChild(chart);
}

const aFit = aFitX.map((x, i) => ({x, y: aFitY[i], lo: aFitLo[i], hi: aFitHi[i]}));
const bFit = bFitX.map((x, i) => ({x, y: bFitY[i], lo: bFitLo[i], hi: bFitHi[i]}));
const cTrend = cTrendX.map((x, i) => ({x, y: cTrendY[i]}));

panel({
  left: 0, top: 0, w: 338, h: 270, ml: 43, mr: 28, mt: 36, mb: 57,
  xd: [0, 60], yd: [0, 60], xt: ticksA, yt: ticksA, points: aPoints.concat(aPointsCore),
  under: [Plot.areaY(aFit, {x: "x", y1: "lo", y2: "hi", fill: "#d2d2d2", curve: "natural"})],
  over: [
    Plot.line(aFit, {x: "x", y: "y", stroke: "#333", strokeWidth: 1, strokeDasharray: "1.5,1.5"}),
    Plot.line(identityLine.map(v => [v, v]), {x: d => d[0], y: d => d[1], stroke: "#000", strokeWidth: 1.8})
  ],
  title: "OBS vs PRED", tdy: -26, letter: "a", ldx: -18, ldy: -26,
  xl: "Predicted tacrolimus (ng/mL)", xldy: 35,
  yl: "Observed tacrolimus (ng/mL)", yldx: -34, yldy: 0, ylfs: 15
});

panel({
  left: 338, top: 0, w: 339, h: 270, ml: 63, mr: 9, mt: 36, mb: 57,
  xd: [0, 60], yd: [0, 60], xt: ticksA, yt: ticksA, points: bPoints.concat(bPointsCore),
  under: [Plot.areaY(bFit, {x: "x", y1: "lo", y2: "hi", fill: "#d2d2d2"})],
  over: [
    Plot.line(identityLine.map(v => [v, v]), {x: d => d[0], y: d => d[1], stroke: "#000", strokeWidth: 1.8}),
    Plot.line(bFit, {x: "x", y: "y", stroke: "#222", strokeWidth: 1.3, strokeDasharray: "3,2"})
  ],
  title: "OBS vs IPRED", tdy: -26, letter: "b", ldx: -18, ldy: -26,
  xl: "Individual predicted tacrolimus (ng/mL)", xldy: 35,
  yl: "Observed tacrolimus (ng/mL)", yldx: -34, yldy: 0, ylfs: 15
});

panel({
  left: 0, top: 270, w: 338, h: 270, ml: 43, mr: 28, mt: 49, mb: 44,
  xd: [0, 1000], yd: [-4, 4], xt: ticksCx, yt: ticksCy, points: cPoints.concat(cPointsCore),
  under: [Plot.ruleY([0], {stroke: "#555", strokeWidth: 1, strokeDasharray: "1.5,1.5"})],
  over: [Plot.line(cTrend, {x: "x", y: "y", stroke: "#d23a2c", strokeWidth: 3, curve: "natural"})],
  title: "CWRES vs time post transplant", tdy: -26, letter: "c", ldx: -18, ldy: -32,
  xl: "Time post transplant (hrs)", xldy: 32,
  yl: "Conditional Weighted residuals", yldx: -29, yldy: -1, ylfs: 14.2
});

panel({
  left: 338, top: 270, w: 339, h: 270, ml: 58, mr: 9, mt: 43, mb: 44,
  xd: [0, 50], yd: [-4, 5], xt: ticksDx, yt: ticksDy, points: dPoints.concat(dPointsCore),
  under: [Plot.ruleY([0], {stroke: "#555", strokeWidth: 1, strokeDasharray: "1.5,1.5"})],
  over: [],
  title: "CWRES vs PRED", tdy: -25, letter: "d", ldx: -13, ldy: -25,
  xl: "Predicted (ng/mL)", xldy: 33,
  yl: "Conditional Weighted residuals", yldx: -29, yldy: 3, ylfs: 14.2
});
</script>
</body></html>
